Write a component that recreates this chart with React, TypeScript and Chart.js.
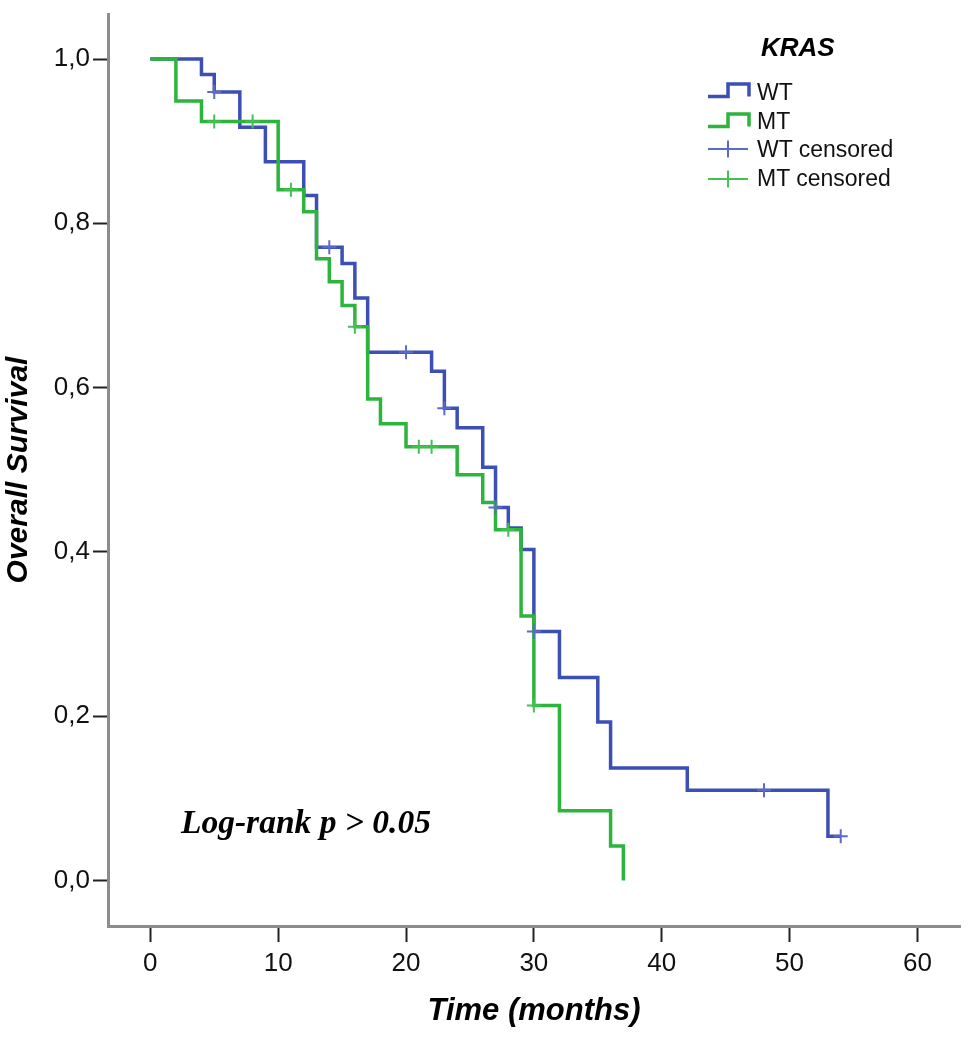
import React, { useEffect, useRef } from "react";
import { Chart, registerables } from "chart.js";

Chart.register(...registerables);

// ---- Data ----
const WT_TIMES = [0, 4, 5, 7, 9, 12, 13, 15, 16, 17, 22, 23, 24, 26, 27, 28, 29, 30, 32, 35, 36, 42, 53, 54];
const WT_SURV = [1, 0.981, 0.96, 0.917, 0.875, 0.834, 0.771, 0.751, 0.709, 0.643, 0.62, 0.575, 0.551, 0.503, 0.454, 0.429, 0.403, 0.303, 0.247, 0.193, 0.137, 0.11, 0.054, 0.054];
const WT_CENS_TIMES = [5, 14, 20, 23, 27, 30, 48, 54];
const WT_CENS_SURV = [0.96, 0.771, 0.643, 0.575, 0.454, 0.303, 0.11, 0.054];

const MT_TIMES = [0, 2, 4, 10, 12, 13, 14, 15, 16, 17, 18, 20, 24, 26, 27, 29, 30, 32, 36, 37];
const MT_SURV = [1, 0.949, 0.924, 0.841, 0.814, 0.757, 0.729, 0.7, 0.674, 0.586, 0.556, 0.528, 0.494, 0.46, 0.427, 0.322, 0.213, 0.085, 0.042, 0];
const MT_CENS_TIMES = [5, 8, 11, 16, 21, 22, 28, 30];
const MT_CENS_SURV = [0.924, 0.924, 0.841, 0.674, 0.528, 0.528, 0.427, 0.213];

const X_TICKS = [0, 10, 20, 30, 40, 50, 60];
const Y_TICKS = [0, 0.2, 0.4, 0.6, 0.8, 1.0];
const Y_TICK_LABELS = ["0,0", "0,2", "0,4", "0,6", "0,8", "1,0"];

const LEGEND_TITLE = "KRAS";
const SERIES_LABELS = ["WT", "MT", "WT censored", "MT censored"];
const X_TITLE = "Time (months)";
const Y_TITLE = "Overall Survival";
const NOTE = "Log-rank p > 0.05";

const BLUE = "#3B4FB4";
const BLUE_LIGHT = "#5A6BCB";
const GREEN = "#2DB43C";
const GREEN_LIGHT = "#45C052";

const SANS = "'Liberation Sans', Arial, sans-serif";
const SERIF = "'Liberation Serif', 'Times New Roman', serif";

function pts(xs: number[], ys: number[]) {
  return xs.map((x, i) => ({ x, y: ys[i] }));
}

export default function App() {
  const canvasRef = useRef<HTMLCanvasElement | null>(null);

  useEffect(() => {
    if (!canvasRef.current) return;
    const chart = new Chart(canvasRef.current, {
      type: "line",
      data: {
        datasets: [
          {
            type: "line",
            label: SERIES_LABELS[0],
            data: pts(WT_TIMES, WT_SURV),
            borderColor: BLUE,
            borderWidth: 3.5,
            stepped: "before",
            pointRadius: 0,
            fill: false,
            order: 3,
          },
          {
            type: "line",
            label: SERIES_LABELS[1],
            data: pts(MT_TIMES, MT_SURV),
            borderColor: GREEN,
            borderWidth: 3.5,
            stepped: "before",
            pointRadius: 0,
            fill: false,
            order: 2,
          },
          {
            type: "scatter",
            label: SERIES_LABELS[2],
            data: pts(WT_CENS_TIMES, WT_CENS_SURV),
            borderColor: BLUE_LIGHT,
            backgroundColor: BLUE_LIGHT,
            pointStyle: "cross",
            pointRadius: 7,
            borderWidth: 2,
            showLine: false,
            order: 1,
          },
          {
            type: "scatter",
            label: SERIES_LABELS[3],
            data: pts(MT_CENS_TIMES, MT_CENS_SURV),
            borderColor: GREEN_LIGHT,
            backgroundColor: GREEN_LIGHT,
            pointStyle: "cross",
            pointRadius: 7,
            borderWidth: 2,
            showLine: false,
            order: 0,
          },
        ],
      },
      options: {
        animation: false,
        responsive: false,
        devicePixelRatio: 1,
        layout: { padding: { top: 14, right: 10, left: 0, bottom: 0 } },
        plugins: {
          legend: { display: false },
          tooltip: { enabled: false },
        },
        scales: {
          x: {
            type: "linear",
            min: -3.31,
            max: 63.33,
            afterBuildTicks: (s: any) => {
              s.ticks = X_TICKS.map((v) => ({ value: v }));
            },
            afterFit: (s: any) => {
              s.height = 112;
              s.paddingLeft = 0;
              s.paddingRight = 0;
            },
            grid: {
              display: true,
              drawOnChartArea: false,
              drawTicks: true,
              tickLength: 16,
              tickColor: "#222",
              tickWidth: 2,
            },
            border: { display: true, color: "#8C8C8C", width: 3 },
            ticks: {
              padding: 6,
              color: "#111",
              font: { family: SANS, size: 26 },
              maxRotation: 0,
              autoSkip: false,
            },
            title: {
              display: true,
              text: X_TITLE,
              color: "#000",
              font: { family: SANS, size: 31, weight: "bold", style: "italic" },
              padding: { top: 0, bottom: 8 },
            },
          },
          y: {
            type: "linear",
            min: -0.0554,
            max: 1.0548,
            afterBuildTicks: (s: any) => {
              s.ticks = Y_TICKS.map((v) => ({ value: v }));
            },
            afterFit: (s: any) => {
              s.width = 108;
              s.paddingTop = 0;
              s.paddingBottom = 0;
            },
            grid: {
              display: true,
              drawOnChartArea: false,
              drawTicks: true,
              tickLength: 15,
              tickColor: "#222",
              tickWidth: 2,
            },
            border: { display: true, color: "#8C8C8C", width: 3 },
            ticks: {
              padding: 3,
              color: "#111",
              font: { family: SANS, size: 26 },
              autoSkip: false,
              callback: (v: any) => {
                const i = Y_TICKS.findIndex((t) => Math.abs(t - Number(v)) < 1e-6);
                return i >= 0 ? Y_TICK_LABELS[i] : "";
              },
            },
            title: {
              display: true,
              text: Y_TITLE,
              color: "#000",
              font: { family: SANS, size: 30, weight: "bold", style: "italic" },
              padding: { top: 1, bottom: 0 },
            },
          },
        },
      },
    });
    return () => chart.destroy();
  }, []);

  const itemText: React.CSSProperties = {
    position: "absolute",
    left: 757,
    fontFamily: SANS,
    fontSize: 23,
    lineHeight: "23px",
    color: "#111",
    whiteSpace: "nowrap",
  };
  const rows = [92, 121.7, 149, 178.5];

  return (
    <div style={{ position: "fixed", left: 0, top: 0, width: 970, height: 1038, background: "#fff" }}>
      <canvas ref={canvasRef} width={970} height={1038} style={{ display: "block", width: 970, height: 1038 }} />
      <div
        style={{
          position: "absolute",
          left: 761,
          top: 47 - 0.4885 * 26,
          fontFamily: SANS,
          fontSize: 26,
          lineHeight: "26px",
          fontWeight: "bold",
          fontStyle: "italic",
          color: "#000",
        }}
      >
        {LEGEND_TITLE}
      </div>
      {/* WT line icon */}
      <svg style={{ position: "absolute", left: 706, top: rows[0] - 10 }} width={46} height={20}>
        <path d="M2 14.5 H22 V2 H43 V14.5" fill="none" stroke={BLUE} strokeWidth={3.5} />
      </svg>
      <div style={{ ...itemText, top: rows[0] - 0.4885 * 23 }}>{SERIES_LABELS[0]}</div>
      {/* MT line icon */}
      <svg style={{ position: "absolute", left: 706, top: rows[1] - 10 }} width={46} height={20}>
        <path d="M2 14.5 H22 V2 H43 V14.5" fill="none" stroke={GREEN} strokeWidth={3.5} />
      </svg>
      <div style={{ ...itemText, top: rows[1] - 0.4885 * 23 }}>{SERIES_LABELS[1]}</div>
      {/* WT censored icon */}
      <svg style={{ position: "absolute", left: 706, top: rows[2] - 10 }} width={46} height={20}>
        <path d="M2 10 H42 M22 1.5 V18.5" fill="none" stroke={BLUE_LIGHT} strokeWidth={2} />
      </svg>
      <div style={{ ...itemText, top: rows[2] - 0.4885 * 23 }}>{SERIES_LABELS[2]}</div>
      {/* MT censored icon */}
      <svg style={{ position: "absolute", left: 706, top: rows[3] - 10 }} width={46} height={20}>
        <path d="M2 10 H42 M22 1.5 V18.5" fill="none" stroke={GREEN_LIGHT} strokeWidth={2} />
      </svg>
      <div style={{ ...itemText, top: rows[3] - 0.4885 * 23 }}>{SERIES_LABELS[3]}</div>
      <div
        style={{
          position: "absolute",
          left: 181,
          top: 805,
          fontFamily: SERIF,
          fontSize: 33.5,
          lineHeight: "33.5px",
          fontWeight: "bold",
          fontStyle: "italic",
          color: "#000",
          whiteSpace: "nowrap",
        }}
      >
        {NOTE}
      </div>
    </div>
  );
}
